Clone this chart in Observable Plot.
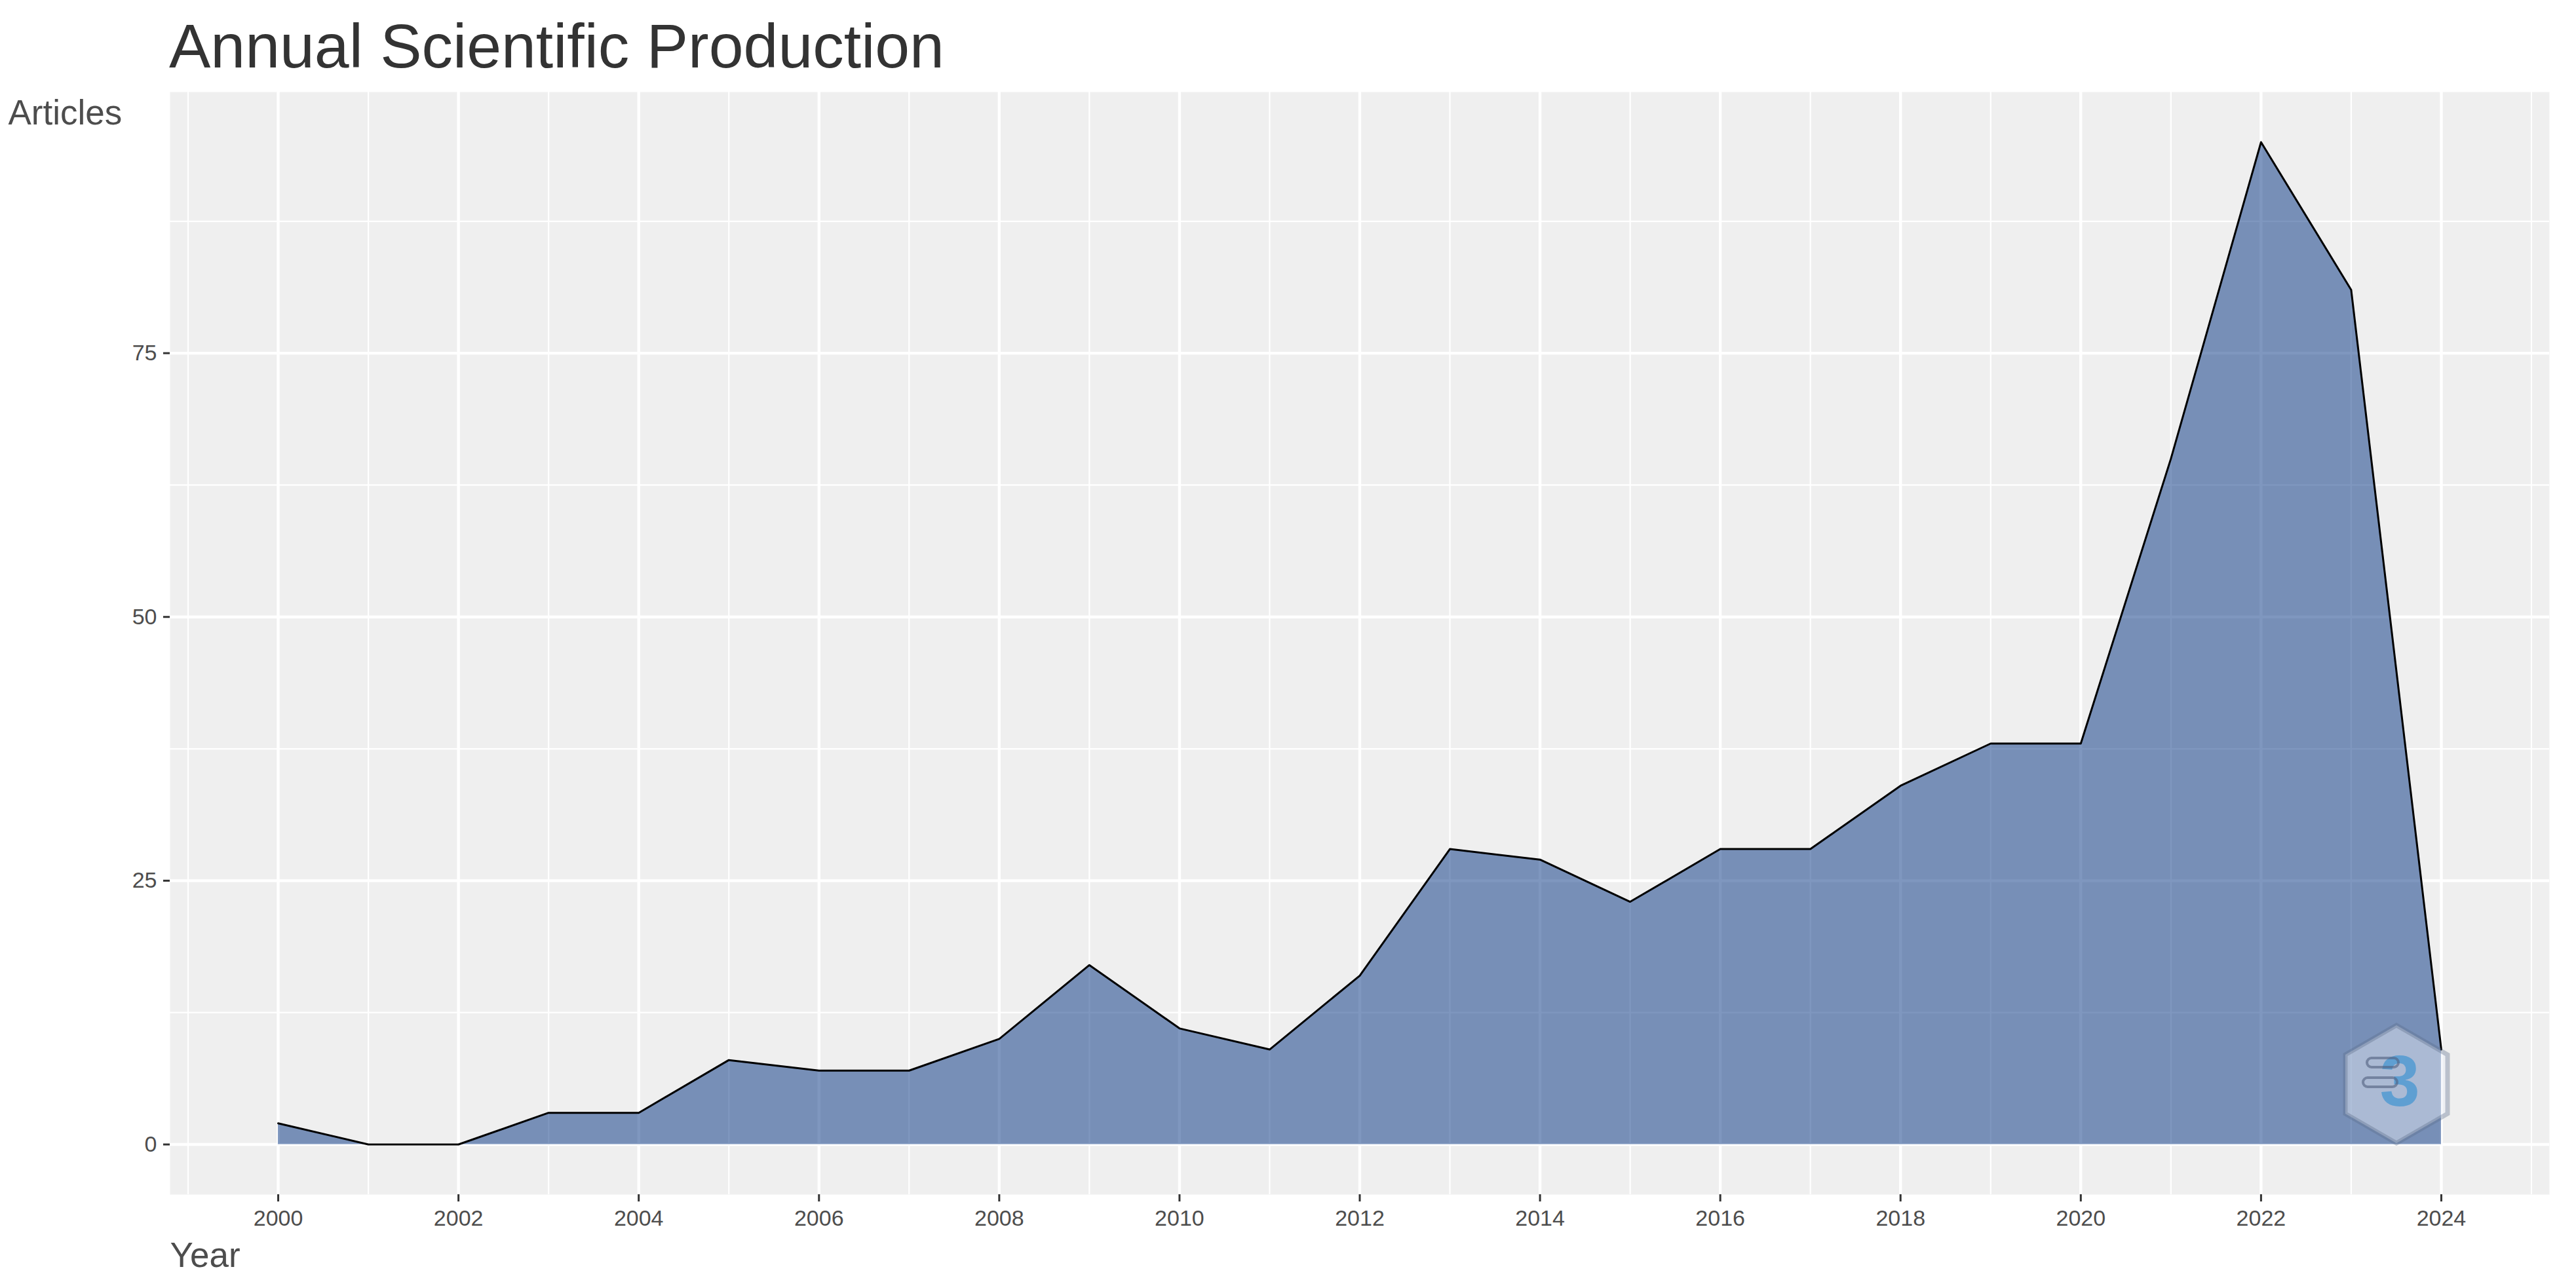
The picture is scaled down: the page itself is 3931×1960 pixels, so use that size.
<!DOCTYPE html>
<html><head><meta charset="utf-8">
<script src="https://cdn.jsdelivr.net/npm/d3@7"></script>
<script src="https://cdn.jsdelivr.net/npm/@observablehq/plot@0.6"></script>
<style>
body{margin:0;background:#fff;font-family:"Liberation Sans",Arial,sans-serif;}
#wrap{position:relative;width:3931px;height:1960px;overflow:hidden;}
#title{height:130px;box-sizing:border-box;padding:23px 0 0 258px;font-size:95px;line-height:95px;color:#333;white-space:nowrap;}
#logo{position:absolute;left:3566px;top:1560px;}
</style></head><body>
<div id="wrap">
<div id="title">Annual Scientific Production</div>
<div id="chart"></div>
<svg id="logo" width="182" height="195" viewBox="0 0 182 195">
  <polygon points="91,5 169,50 169,140 91,185 13,140 13,50" fill="rgba(235,240,248,0.45)" stroke="rgba(90,105,135,0.35)" stroke-width="7"/>
  <text x="96" y="128" text-anchor="middle" font-size="110" font-weight="bold" font-family="Liberation Sans, Arial, sans-serif" fill="rgba(70,150,210,0.75)">3</text>
  <rect x="46" y="55" width="48" height="14" rx="7" fill="none" stroke="rgba(80,95,125,0.6)" stroke-width="4"/>
  <rect x="40" y="85" width="52" height="14" rx="7" fill="none" stroke="rgba(80,95,125,0.6)" stroke-width="4"/>
</svg>
</div>
<script>
const years = [2000,2001,2002,2003,2004,2005,2006,2007,2008,2009,2010,2011,2012,2013,2014,2015,2016,2017,2018,2019,2020,2021,2022,2023,2024];
const articles = [2,0,0,3,3,8,7,7,10,17,11,9,16,28,27,23,28,28,34,38,38,65,95,81,9];
const xMajorTicks = [2000,2002,2004,2006,2008,2010,2012,2014,2016,2018,2020,2022,2024];
const xMinorTicks = [1999,2001,2003,2005,2007,2009,2011,2013,2015,2017,2019,2021,2023,2025];
const yMajorTicks = [0,25,50,75];
const yMinorTicks = [12.5,37.5,62.5,87.5];
const xTitle = "Year";
const yTitle = "Articles";

const data = years.map((y, i) => ({year: y, articles: articles[i]}));

const plot = Plot.plot({
  width: 3931,
  height: 1830,
  marginTop: 10,
  marginBottom: 137,
  marginLeft: 259,
  marginRight: 41,
  style: {fontFamily: "Liberation Sans, Arial, sans-serif", background: "transparent", overflow: "visible"},
  x: {domain: [1998.8, 2025.2]},
  y: {domain: [-4.75, 99.75]},
  marks: [
    Plot.frame({fill: "#EFEFEF", stroke: null}),
    Plot.gridX(xMinorTicks, {stroke: "white", strokeOpacity: 1, strokeWidth: 2.2}),
    Plot.gridY(yMinorTicks, {stroke: "white", strokeOpacity: 1, strokeWidth: 2.2}),
    Plot.gridX(xMajorTicks, {stroke: "white", strokeOpacity: 1, strokeWidth: 4.4}),
    Plot.gridY(yMajorTicks, {stroke: "white", strokeOpacity: 1, strokeWidth: 4.4}),
    Plot.areaY(data, {x: "year", y: "articles", fill: "#002F80", fillOpacity: 0.5}),
    Plot.lineY(data, {x: "year", y: "articles", stroke: "black", strokeWidth: 3}),
    Plot.axisX(xMajorTicks, {tickFormat: d => String(d), tickSize: 11, tickPadding: 12, fontSize: 34, fill: "#4D4D4D", stroke: "#333", strokeWidth: 3, label: null}),
    Plot.axisY(yMajorTicks, {tickFormat: d => String(d), tickSize: 10, tickPadding: 10, fontSize: 34, fill: "#4D4D4D", stroke: "#333", strokeWidth: 3, label: null}),
    Plot.text([yTitle], {frameAnchor: "top-left", text: d => d, textAnchor: "start", lineAnchor: "middle", dx: -247, dy: 33, fontSize: 53, fill: "#4D4D4D"}),
    Plot.text([xTitle], {frameAnchor: "bottom-left", text: d => d, textAnchor: "start", lineAnchor: "middle", dx: 0, dy: 94, fontSize: 53, fill: "#4D4D4D"})
  ]
});
document.getElementById("chart").appendChild(plot);
</script>
</body></html>
